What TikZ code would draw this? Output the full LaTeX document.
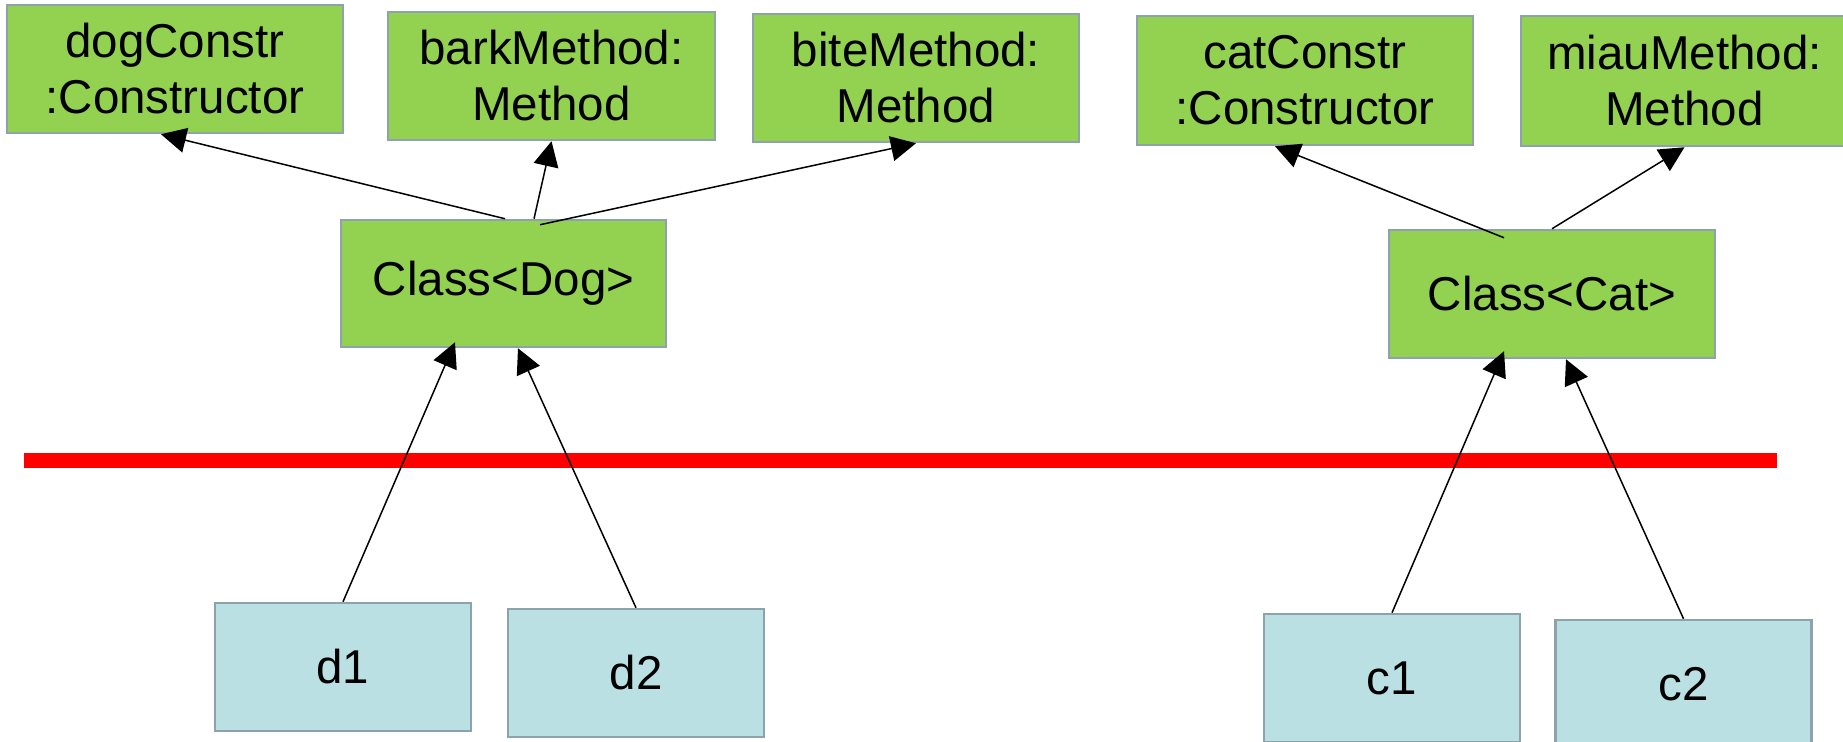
\documentclass[tikz,border=0pt]{standalone}
\usepackage{fontspec}
\setmainfont{Liberation Sans}
\usetikzlibrary{arrows.meta}
\definecolor{boxgreen}{HTML}{93D150}
\definecolor{boxblue}{HTML}{BBE0E3}
\definecolor{boxedge}{HTML}{8DA2AA}
\tikzset{
  classbox/.style={draw=boxedge, line width=2.5pt, fill=boxgreen, align=center,
    inner sep=0pt, font=\fontsize{47.5}{56}\selectfont},
  objbox/.style={draw=boxedge, line width=2.5pt, fill=boxblue, align=center,
    inner sep=0pt, minimum width=256pt, minimum height=128pt,
    font=\fontsize{47.5}{56}\selectfont},
  ref/.style={draw=black, line width=1.5pt, -{Triangle[length=25pt,width=25pt]}},
  divider/.style={draw=red, line width=15pt}
}
\begin{document}
\begin{tikzpicture}[x=1pt,y=-1pt]
\useasboundingbox (0,0) rectangle (1843,741);
\clip (0,0) rectangle (1843,741);
\fill[white] (0,0) rectangle (1843,741);

% meta objects of the Dog class
\node[classbox, minimum width=336pt, minimum height=128pt] (dogc) at (175,69) {dogConstr\\:Constructor};
\node[classbox, minimum width=327pt, minimum height=128pt] (bark) at (551.5,76) {barkMethod:\\Method};
\node[classbox, minimum width=326pt, minimum height=128pt] (bite) at (916,78) {biteMethod:\\Method};
\node[classbox, minimum width=325pt, minimum height=127pt] (dog) at (503.5,283.5) {Class<Dog>};

% meta objects of the Cat class
\node[classbox, minimum width=336pt, minimum height=129pt] (catc) at (1305,80.5) {catConstr\\:Constructor};
\node[classbox, minimum width=327pt, minimum height=130pt] (miau) at (1684.5,81) {miauMethod:\\Method};
\node[classbox, minimum width=326pt, minimum height=128pt] (cat) at (1552,294) {Class<Cat>};

% boundary between class level and instance level
\coordinate (lineL) at (23.5,460);
\coordinate (lineR) at (1777,460);
\draw[divider] (lineL) -- (lineR);

% instances
\node[objbox] (d1) at (343,667) {d1};
\node[objbox] (d2) at (636,673) {d2};
\node[objbox] (c1) at (1392,678) {c1};
\node[objbox] (c2) at (1683.5,684) {c2};

% references from the Dog class
\draw[ref] ([xshift=1.5pt]dog.north) -- ([xshift=-14pt]dogc.south);
\draw[ref] ([xshift=30.5pt]dog.north) -- (bark.south);
\draw[ref] ([xshift=36.5pt,yshift=-6pt]dog.north) -- (bite.south);

% references from the Cat class
\draw[ref] ([xshift=-48pt,yshift=-9pt]cat.north) -- ([xshift=-30pt]catc.south);
\draw[ref] (cat.north) -- (miau.south);

% instances point to their class
\draw[ref] (d1.north) -- ([xshift=-48.5pt,yshift=6pt]dog.south);
\draw[ref] (d2.north) -- ([xshift=14.5pt]dog.south);
\draw[ref] (c1.north) -- ([xshift=-48pt,yshift=8pt]cat.south);
\draw[ref] (c2.north) -- ([xshift=14pt]cat.south);
\end{tikzpicture}
\end{document}
